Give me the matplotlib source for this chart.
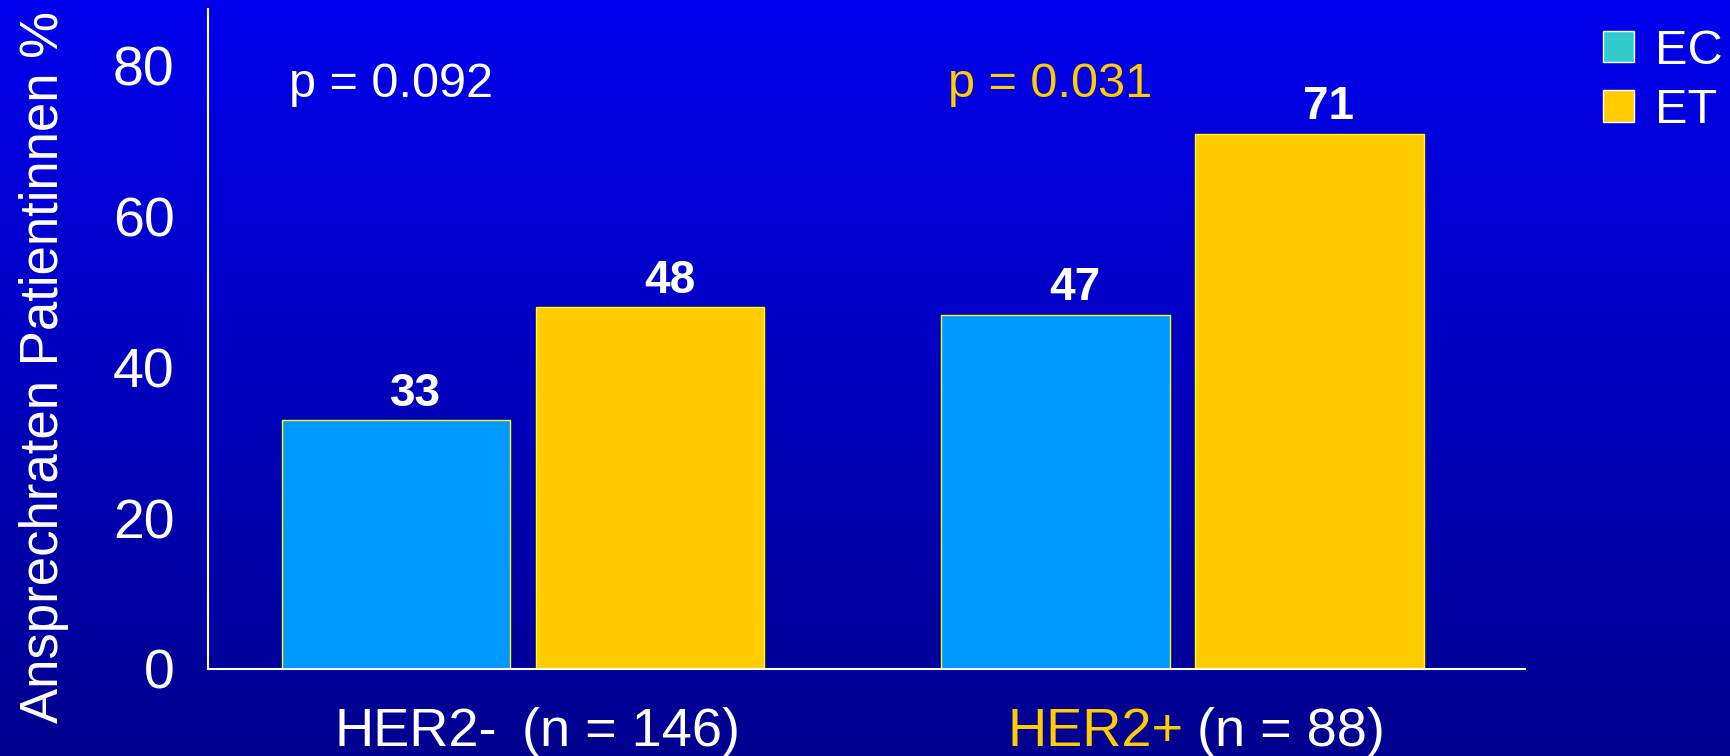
import numpy as np
import matplotlib
matplotlib.use("Agg")
import matplotlib.pyplot as plt
from matplotlib.patches import Patch
from matplotlib.transforms import blended_transform_factory, offset_copy

plt.rcParams['font.family'] = ['Liberation Sans', 'DejaVu Sans']

# response rates (%) per HER2 group
groups = ['HER2-', 'HER2+']
group_n = [146, 88]
ec_values = [33, 47]
et_values = [48, 71]
p_values = ['p = 0.092', 'p = 0.031']
p_colors = ['white', '#FFCC00']
group_colors = ['white', '#FFCC00']

ec_color = '#0099FF'
ec_legend_color = '#33CCCC'
et_color = '#FFCC00'

fig = plt.figure(figsize=(17.31, 7.56), dpi=100)

# vertical blue gradient behind everything
bg = fig.add_axes([0, 0, 1, 1], zorder=-1)
grad = np.linspace(0, 1, 256).reshape(-1, 1)
top = np.array([0.0, 0.0, 0.93])
bottom = np.array([0.0, 0.0, 0.56])
img = top + (bottom - top) * grad[:, :, None]
bg.imshow(img, aspect='auto', extent=[0, 1, 0, 1])
bg.axis('off')

ax = fig.add_axes([0.1202, 0.1151, 0.7606, 0.8729])
ax.patch.set_alpha(0)

x = np.arange(len(groups))
width = 0.346
off = 0.1926
b1 = ax.bar(x - off, ec_values, width, color=ec_color, edgecolor='#FFFF00', linewidth=1)
b2 = ax.bar(x + off, et_values, width, color=et_color, edgecolor='#FFFF00', linewidth=1)

for bars, vals in [(b1, ec_values), (b2, et_values)]:
    for b, v in zip(bars, vals):
        ax.annotate(str(v), (b.get_x() + b.get_width() / 2, v), xytext=(14, 3),
                    textcoords='offset points', ha='center', va='bottom',
                    color='white', fontsize=33, fontweight='bold')

ax.set_xlim(-0.478, 1.519)
ax.set_ylim(0, 87.5)
ax.set_yticks([0, 20, 40, 60, 80])
ax.tick_params(axis='y', length=0, pad=24, labelsize=40, labelcolor='white')
ax.set_xticks([])
for s in ['top', 'right']:
    ax.spines[s].set_visible(False)
for s in ['left', 'bottom']:
    ax.spines[s].set_color('white')
    ax.spines[s].set_linewidth(1.5)

ax.set_ylabel('Ansprechraten Patientinnen %', fontsize=38, color='white')
ax.yaxis.set_label_coords(-0.106, 0.458)

# p-values above each group
ptr = blended_transform_factory(ax.transData, ax.transAxes)
p_x = [-0.355, 0.645]
for px, txt, c in zip(p_x, p_values, p_colors):
    ax.text(px, 0.885, txt, transform=ptr, ha='left', va='center', fontsize=35, color=c)

# group labels below the axis, group name coloured
lab_y = -0.095
gaps = [9, 5]
seps = [-0.021, 1.012]
for g, n, c, gap, sep in zip(groups, group_n, group_colors, gaps, seps):
    name_t = offset_copy(ptr, fig=fig, x=-gap, units='points')
    n_t = offset_copy(ptr, fig=fig, x=gap, units='points')
    ax.text(sep, lab_y, g, transform=name_t, ha='right', va='center', fontsize=39, color=c)
    ax.text(sep, lab_y, f'(n = {n})', transform=n_t, ha='left', va='center', fontsize=39, color='white')

handles = [Patch(facecolor=ec_legend_color, edgecolor='white', label='EC'),
           Patch(facecolor=et_color, edgecolor='white', label='ET')]
leg = fig.legend(handles=handles, loc='upper left', bbox_to_anchor=(0.901, 1.02),
                 frameon=False, fontsize=35, handlelength=0.62, handleheight=0.62,
                 handletextpad=0.45, labelspacing=0.3, labelcolor='white')

fig.savefig('out.png', dpi=100)
